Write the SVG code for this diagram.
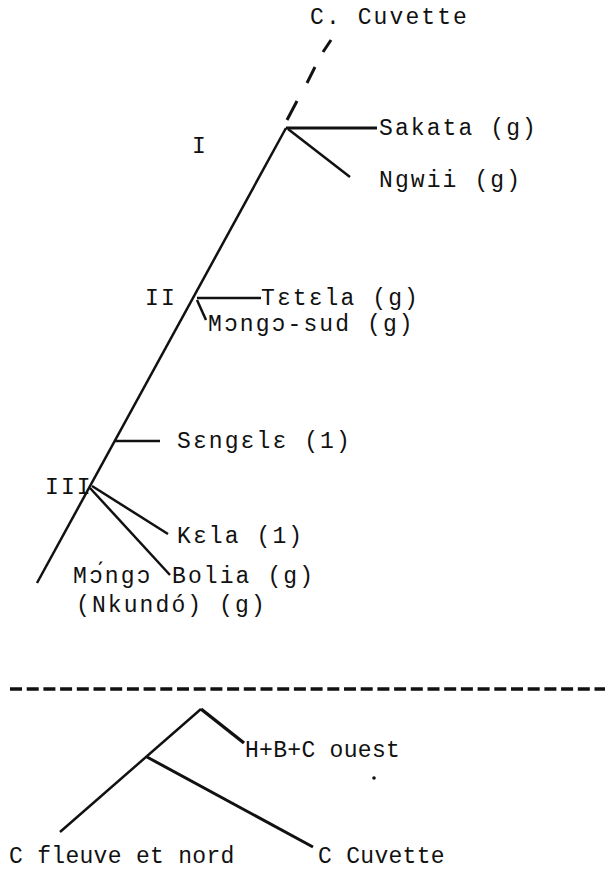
<svg xmlns="http://www.w3.org/2000/svg" width="605" height="869" viewBox="0 0 605 869">
<style>
text{font-family:"Liberation Mono","Courier New",monospace;fill:#111;}
.t{font-size:23px;letter-spacing:2.1px;}
.b{font-size:23px;letter-spacing:0.3px;}
.ln{stroke:#111;fill:none;stroke-linecap:butt;}
</style>
<rect width="605" height="869" fill="#fff"/>
<g id="connectors">
  <line class="ln" x1="287" y1="120" x2="297" y2="101" stroke-width="3"/>
  <line class="ln" x1="307" y1="83" x2="315" y2="67" stroke-width="3"/>
  <line class="ln" x1="323" y1="52" x2="331" y2="40" stroke-width="3"/>
  <line class="ln" x1="37" y1="583" x2="286" y2="128" stroke-width="2.5"/>
  <line class="ln" x1="286" y1="128" x2="377" y2="128" stroke-width="3.2"/>
  <line class="ln" x1="288" y1="129" x2="350" y2="177" stroke-width="2.5"/>
  <line class="ln" x1="197" y1="298" x2="261" y2="298" stroke-width="2.5"/>
  <line class="ln" x1="197" y1="300" x2="206" y2="320" stroke-width="2.5"/>
  <line class="ln" x1="114" y1="441" x2="160" y2="441" stroke-width="2.5"/>
  <line class="ln" x1="92" y1="486" x2="168" y2="534" stroke-width="2.5"/>
  <line class="ln" x1="90" y1="488" x2="170" y2="575" stroke-width="2.5"/>
  <line class="ln" x1="10" y1="689" x2="605" y2="689" stroke-width="3.5" stroke-dasharray="12 4.7"/>
  <line class="ln" x1="201" y1="709" x2="244" y2="743" stroke-width="3.5"/>
  <line class="ln" x1="201" y1="709" x2="60" y2="832" stroke-width="2.5"/>
  <line class="ln" x1="147" y1="757" x2="313" y2="847" stroke-width="3"/>
</g>
<g id="c-cuvette-top"><text class="t" x="310" y="24">C. Cuvette</text></g>
<g id="label-I"><text class="t" x="192" y="153">I</text></g>
<g id="sakata"><text class="t" x="379" y="135">Sakata (g)</text></g>
<g id="ngwii"><text class="t" x="379" y="187">Ngwii (g)</text></g>
<g id="label-II"><text class="t" x="145" y="305">II</text></g>
<g id="tetela"><text class="t" x="261" y="305">Tɛtɛla (g)</text></g>
<g id="mongo-sud"><text class="t" x="208" y="331">Mɔngɔ-sud (g)</text></g>
<g id="sengele"><text class="t" x="177" y="448">Sɛngɛlɛ (1)</text></g>
<g id="label-III"><text class="t" x="45" y="494">III</text></g>
<g id="kela"><text class="t" x="177" y="543">Kɛla (1)</text></g>
<g id="mongo-nkundo"><text class="t" x="73" y="583">Mɔ́ngɔ</text><text class="t" x="76" y="612">(Nkundó) (g)</text></g>
<g id="bolia"><text class="t" x="172" y="583">Bolia (g)</text></g>
<g id="hbc-ouest"><text class="b" x="245" y="757">H+B+C ouest</text></g>
<g id="c-fleuve"><text class="b" x="9" y="863">C fleuve et nord</text></g>
<g id="c-cuvette-bottom"><text class="b" x="318" y="863">C Cuvette</text></g>
<circle cx="374" cy="778" r="1.8" fill="#111"/>
</svg>
